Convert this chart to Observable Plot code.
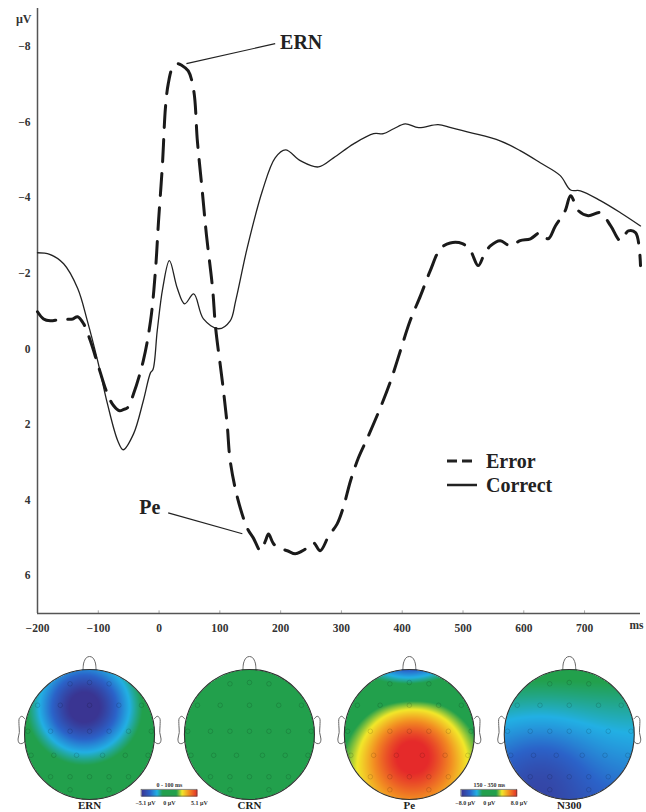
<!DOCTYPE html>
<html><head><meta charset="utf-8">
<script src="https://cdn.jsdelivr.net/npm/d3@7"></script>
<script src="https://cdn.jsdelivr.net/npm/@observablehq/plot@0.6"></script>
<style>
body{margin:0;background:#fff;}
#wrap{position:relative;width:646px;height:812px;font-family:"Liberation Serif",serif;}
#wrap svg{display:block;}
#legend{position:absolute;left:447px;top:449px;font:bold 20px "Liberation Serif",serif;color:#222;line-height:24px;}
#legend div{display:flex;align-items:center;}
#legend svg{margin-right:9px;}
</style></head><body><div id="wrap"><div id="main"></div><div id="topo"></div><div id="legend"></div></div>
<script>
// ---------- ERP waveform data (ms, µV; negative up) ----------
const correctT = [-200,-180,-157,-134,-118,-101,-85,-68,-59,-42,-26,-14,-10,-3,6,17,30,42,57,73,98,117,126,145,170,191,208,233,262,287,320,353,369,386,405,427,459,480,512,561,594,627,660,677,693,726,759,792];
const correctV = [-2.54,-2.5,-2.25,-1.6,-0.74,0.32,1.45,2.43,2.67,2.25,1.38,0.63,0.55,-0.48,-1.6,-2.33,-1.6,-1.19,-1.45,-0.79,-0.53,-0.74,-1.27,-2.67,-4.18,-5.05,-5.26,-4.97,-4.81,-5.05,-5.42,-5.69,-5.69,-5.82,-5.95,-5.85,-5.93,-5.85,-5.72,-5.5,-5.24,-4.92,-4.58,-4.2,-4.18,-3.92,-3.6,-3.25];
const errorT = [-200,-190,-179,-165,-150,-142,-134,-124,-113,-101,-85,-75,-65,-58,-52,-42,-26,-14,-6,-1,5.6,10.5,15,22,30,38,48,57,63,71,78,88,93,104,112,117,129,145,155,167,175,180,188,196,211,224,235,244,254,265,279,293,303,315,328,343,364,381,397,413,430,446,463,479,499,512,525,535,545,561,578,594,611,627,640,652,668,677,690,706,726,743,759,772,784,792];
const errorV = [-0.98,-0.79,-0.74,-0.77,-0.78,-0.79,-0.85,-0.66,-0.21,0.4,1.19,1.5,1.64,1.6,1.56,1.19,0.32,-0.74,-2.06,-3.35,-4.89,-6.38,-7.0,-7.43,-7.54,-7.49,-7.35,-6.83,-5.5,-4.18,-3.0,-1.6,-0.56,0.85,2.0,2.96,3.94,4.74,5.0,5.34,5.08,4.9,5.15,5.26,5.34,5.42,5.35,5.26,5.13,5.34,4.95,4.63,4.2,3.49,2.88,2.35,1.56,0.85,0.05,-0.74,-1.4,-2.06,-2.65,-2.8,-2.78,-2.6,-2.2,-2.5,-2.72,-2.86,-2.72,-2.86,-2.91,-3.07,-2.91,-3.25,-3.65,-4.05,-3.65,-3.52,-3.6,-3.25,-2.86,-3.12,-3.07,-2.2];

// ---------- axes ----------
const xDomain = [-200, 792];
const yDomain = [7, -9];
const xTicks = [-200,-100,0,100,200,300,400,500,600,700];
const yTicks = [-8,-6,-4,-2,0,2,4,6];
const xUnit = "ms";
const yUnit = "µV";

// ---------- annotations ----------
const annotLabels = ["ERN","Pe"];
const annotPeakT = [45, 137];
const annotPeakV = [-7.54, 4.89];
const annotEndT = [191, 15];
const annotEndV = [-8.07, 4.34];
const annotTextT = [199, 2];
const annotTextV = [-8.1, 4.2];

// ---------- legend ----------
const legendLabels = ["Error","Correct"];
const legendDash = ["10,5", null];

// ---------- topographic maps ----------
const topoNames = ["ERN","CRN","Pe","N300"];
const topoBase = [0, -0.06, -0.05, -0.45];      // normalised field offset
const topoGradY = [0, 0, -0.25, 0.25];          // front-back gradient
// blobs per head: [centre x, centre y, amplitude, spread]
const topoBlobs = [
  [[-0.08, 0.42, -1.1, 0.52]],
  [[0, 0.6, -0.08, 0.3]],
  [[0.05, -0.25, 1.05, 0.62], [0, 1.4, -1.0, 0.38]],
  [[-0.45, -0.6, -0.25, 0.55]]
];
const cbTitles = ["0 - 100 ms","150 - 350 ms"];
const cbMin = ["\u22125.1 µV","\u22128.0 µV"];
const cbMid = ["0 µV","0 µV"];
const cbMax = ["5.1 µV","8.0 µV"];
const cbBetween = [0, 2];   // colorbar lies between head i and i+1
const colorStops = [-1,-0.7,-0.45,-0.25,0.25,0.45,0.7,1];
const colorRange = ["#3a3592","#2b63c9","#22b0e4","#22a04c","#22a04c","#f2e82a","#f28c22","#e52a2a"];
const noseShape = [[-0.1,0.99],[-0.09,1.1],[-0.05,1.18],[0,1.2],[0.05,1.18],[0.09,1.1],[0.1,0.99]];
const earShape = [[0.995,0.24],[1.04,0.28],[1.08,0.25],[1.085,0.14],[1.08,0.03],[1.1,-0.07],[1.085,-0.13],[1.04,-0.14],[1.0,-0.11]];
const electrodes = [[-0.3,0.78],[0,0.8],[0.3,0.78],[-0.8,0.45],[-0.45,0.45],[0,0.45],[0.45,0.45],[0.8,0.45],
  [-0.95,0.05],[-0.6,0.05],[-0.3,0.05],[0,0.05],[0.3,0.05],[0.6,0.05],[0.95,0.05],
  [-0.9,-0.32],[-0.55,-0.32],[-0.2,-0.32],[0.2,-0.32],[0.55,-0.32],[0.9,-0.32],
  [-0.6,-0.65],[-0.3,-0.65],[0,-0.65],[0.3,-0.65],[0.6,-0.65],[-0.3,-0.85],[0.3,-0.85]];

// ---------- build tables ----------
const correctData = correctT.map((t,i)=>({t, v: correctV[i]}));
const errorData = errorT.map((t,i)=>({t, v: errorV[i]}));
const annots = annotLabels.map((label,i)=>({label, x1:annotPeakT[i], y1:annotPeakV[i], x2:annotEndT[i], y2:annotEndV[i], tx:annotTextT[i], ty:annotTextV[i]}));
const serif = '"Liberation Serif", "Times New Roman", serif';

const main = Plot.plot({
  width: 646, height: 648,
  marginLeft: 37, marginRight: 6, marginTop: 8, marginBottom: 35,
  style: {fontFamily: serif, fontWeight: "bold", fontSize: "11.5px", color: "#333", background: "#fff"},
  x: {domain: xDomain, ticks: xTicks, tickSize: 0, tickPadding: 10, label: null},
  y: {domain: yDomain, ticks: yTicks, tickSize: 0, tickPadding: 7, label: null},
  marks: [
    Plot.ruleX(xTicks, {y1: yDomain[0], y2: yDomain[0] - 0.07, stroke: "#aaa"}),
    Plot.ruleX([xDomain[0]], {stroke: "#555", strokeWidth: 1.5}),
    Plot.ruleY([yDomain[0]], {stroke: "#555", strokeWidth: 1.5}),
    Plot.line(correctData, {x: "t", y: "v", stroke: "#222", strokeWidth: 1.3, curve: "catmull-rom"}),
    Plot.line(errorData, {x: "t", y: "v", stroke: "#1a1a1a", strokeWidth: 3, strokeDasharray: "22,12", curve: "catmull-rom"}),
    Plot.link(annots, {x1: "x1", y1: "y1", x2: "x2", y2: "y2", stroke: "#222", strokeWidth: 1.2}),
    Plot.text(annots.filter(d=>d.label==="ERN"), {x: "tx", y: "ty", text: "label", textAnchor: "start", fontSize: 20, fontWeight: "bold", fill: "#222"}),
    Plot.text(annots.filter(d=>d.label==="Pe"), {x: "tx", y: "ty", text: "label", textAnchor: "end", fontSize: 20, fontWeight: "bold", fill: "#222"}),
    Plot.text([yUnit], {text: d=>d, frameAnchor: "top-left", dx: -6, dy: 6, textAnchor: "end", fontSize: 12, fontWeight: "bold", fill: "#333"}),
    Plot.text([xUnit], {text: d=>d, frameAnchor: "bottom-right", dx: 3, dy: 15, textAnchor: "end", fontSize: 11.5, fontWeight: "bold", fill: "#333"})
  ]
});
document.getElementById("main").appendChild(main);

// legend (overlay inside the chart)
const lg = document.getElementById("legend");
legendLabels.forEach((label,i)=>{
  const row = document.createElement("div");
  row.innerHTML = `<svg width="30" height="10"><line x1="0" y1="5" x2="30" y2="5" stroke="#222" stroke-width="${legendDash[i]?3:2.5}" ${legendDash[i]?`stroke-dasharray="${legendDash[i]}"`:""}/></svg><span>${label}</span>`;
  lg.appendChild(row);
});

// ---------- topographic maps ----------
const U = 65;                 // pixels per head radius
const topoW = 646, topoH = 164;
const firstCx = 1.37, stepCx = 2.46;
const heads = topoNames.map((name,i)=>({name, i, cx: firstCx + i*stepCx}));
function field(i, dx, dy){
  let v = topoBase[i] + topoGradY[i]*dy;
  for (const [bx,by,amp,sd] of topoBlobs[i]) {
    const d2 = (dx-bx)**2 + (dy-by)**2;
    v += amp*Math.exp(-d2/(2*sd*sd));
  }
  return v;
}
const yTop = 86/U, yBot = -(topoH-86)/U;
const noseData = heads.flatMap(h=>noseShape.map(([x,y])=>({h:h.name, x:h.cx+x, y})));
const earData = heads.flatMap(h=>[1,-1].flatMap(s=>earShape.map(([x,y])=>({k:h.name+s, x:h.cx+s*x, y}))));
const elecData = heads.flatMap(h=>electrodes.map(([x,y])=>({x:h.cx+x, y})));
const bars = cbTitles.map((title,j)=>{
  const c = (heads[cbBetween[j]].cx + heads[cbBetween[j]+1].cx)/2;
  return {title, min: cbMin[j], mid: cbMid[j], max: cbMax[j], x1: c-0.43, x2: c+0.43, c, y1: -0.955, y2: -0.85};
});

const topo = Plot.plot({
  width: topoW, height: topoH, margin: 0,
  style: {fontFamily: serif, background: "#fff"},
  x: {domain: [0, topoW/U], axis: null},
  y: {domain: [yBot, yTop], axis: null},
  color: {type: "linear", domain: colorStops, range: colorRange, clamp: true, interpolate: "rgb"},
  marks: [
    Plot.line(noseData, {x: "x", y: "y", z: "h", stroke: "#666", strokeWidth: 1, curve: "catmull-rom"}),
    Plot.line(earData, {x: "x", y: "y", z: "k", stroke: "#666", strokeWidth: 1, curve: "catmull-rom"}),
    ...heads.map(h=>Plot.raster({
      x1: h.cx-1, x2: h.cx+1, y1: -1, y2: 1, pixelSize: 1,
      fill: (x,y)=>{const dx=x-h.cx; return (dx*dx+y*y<=1) ? field(h.i, dx, y) : NaN;},
      fillOpacity: (x,y)=>{const dx=x-h.cx; return (dx*dx+y*y<=1) ? 1 : 0;}
    })),
    Plot.dot(elecData, {x: "x", y: "y", r: 2.3, stroke: "#000", strokeOpacity: 0.13, strokeWidth: 1}),
    Plot.dot(heads, {x: "cx", y: 0, r: U, stroke: "#333", strokeWidth: 1.1, fill: "none"}),
    Plot.text(heads, {x: "cx", y: -1.09, text: "name", fontSize: 11, fontWeight: "bold", fill: "#222"}),
    ...bars.map(b=>Plot.raster({x1: b.x1, x2: b.x2, y1: b.y1, y2: b.y2, pixelSize: 1,
      fill: (x,y)=>((x-b.x1)/(b.x2-b.x1))*2-1})),
    Plot.rect(bars, {x1: "x1", x2: "x2", y1: "y1", y2: "y2", stroke: "#444", strokeWidth: 0.6, fill: "none"}),
    Plot.text(bars, {x: "c", y: -0.78, text: "title", fontSize: 6, fontWeight: "bold", fill: "#333"}),
    Plot.text(bars, {x: "x1", y: -1.06, text: "min", fontSize: 6, fontWeight: "bold", fill: "#333", dx: 4}),
    Plot.text(bars, {x: "c", y: -1.06, text: "mid", fontSize: 6, fontWeight: "bold", fill: "#333"}),
    Plot.text(bars, {x: "x2", y: -1.06, text: "max", fontSize: 6, fontWeight: "bold", fill: "#333", dx: 2})
  ]
});
document.getElementById("topo").appendChild(topo);
</script>
</body></html>
